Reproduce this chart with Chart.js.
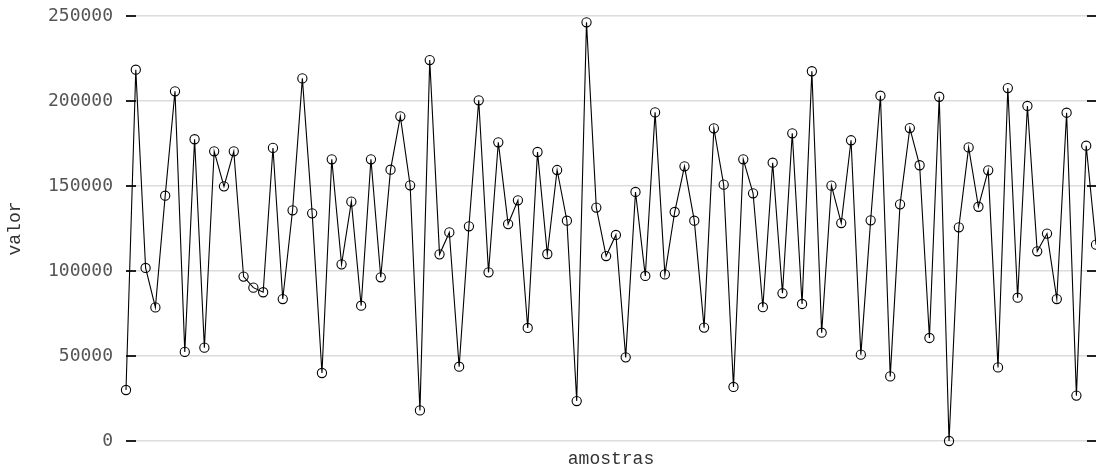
<!DOCTYPE html>
<html>
<head>
<meta charset="utf-8">
<script src="https://cdn.jsdelivr.net/npm/chart.js@4"></script>
<style>
  html, body { margin: 0; padding: 0; background: #fff; }
  #wrap { width: 1096px; height: 470px; }
</style>
</head>
<body>
<div id="wrap"><canvas id="chart" width="1096" height="470"></canvas></div>
<script>
// valores (100 amostras)
const valores = [
    30000, 218400, 101800, 78600, 144300, 205700, 52400, 177500, 54900, 170400,
    149800, 170400, 96700, 90200, 87500, 172400, 83500, 135700, 213300, 133900,
    40000, 165700, 103900, 140800, 79600, 165700, 96300, 159600, 191000, 150400,
    18000, 224100, 109800, 122700, 43700, 126300, 200400, 99200, 175700, 127600,
    141600, 66500, 170000, 110000, 159400, 129600, 23500, 246300, 137300, 108800,
    121200, 49200, 146500, 97100, 193300, 98000, 134700, 161600, 129600, 66700,
    183900, 150800, 31800, 165700, 145700, 78700, 163700, 86900, 181000, 80600,
    217500, 63700, 150200, 128200, 176900, 50800, 129800, 203100, 38000, 139200,
    184100, 162200, 60600, 202500, 0, 125700, 172700, 137800, 159200, 43300,
    207600, 84300, 197100, 111600, 122000, 83500, 193100, 26700, 173700, 115500
];
const amostras = valores.map((v, i) => i + 1);
const yTicks = [0, 50000, 100000, 150000, 200000, 250000];

// marcas de escala para dentro, dos dois lados
const tickMarks = {
    id: 'tickMarks',
    beforeDatasetsDraw(chart) {
        const { ctx, chartArea, scales } = chart;
        ctx.save();
        ctx.strokeStyle = '#222';
        ctx.lineWidth = 2;
        yTicks.forEach(t => {
            const y = scales.y.getPixelForValue(t);
            ctx.beginPath();
            ctx.moveTo(chartArea.left, y);
            ctx.lineTo(chartArea.left + 10, y);
            ctx.moveTo(chartArea.right - 9, y);
            ctx.lineTo(chartArea.right, y);
            ctx.stroke();
        });
        ctx.restore();
    }
};

new Chart(document.getElementById('chart').getContext('2d'), {
    type: 'line',
    data: {
        labels: amostras,
        datasets: [{
            data: valores,
            borderColor: '#000',
            borderWidth: 1.1,
            pointRadius: 4.6,
            pointBorderWidth: 1.1,
            pointBorderColor: '#000',
            pointBackgroundColor: 'rgba(0,0,0,0)',
            tension: 0,
            clip: false
        }]
    },
    options: {
        responsive: false,
        animation: false,
        layout: { autoPadding: false, padding: 0 },
        plugins: { legend: { display: false }, tooltip: { enabled: false } },
        scales: {
            x: {
                type: 'category',
                offset: false,
                grid: { display: false },
                border: { display: false },
                ticks: { display: false },
                title: {
                    display: true, text: 'amostras', color: '#333',
                    font: { family: 'Liberation Mono', size: 18 },
                    padding: { top: 0, bottom: 0 }
                },
                afterFit: s => { s.height = 29; }
            },
            y: {
                min: 0, max: 250000,
                afterBuildTicks: s => { s.ticks = yTicks.map(v => ({ value: v })); },
                grid: { color: '#dcdcdc', lineWidth: 1.5, drawTicks: false },
                border: { display: false },
                ticks: {
                    color: '#555', padding: 13,
                    font: { family: 'DejaVu Sans Mono', size: 18 },
                    callback: v => String(v)
                },
                title: {
                    display: true, text: 'valor', color: '#333',
                    font: { family: 'Liberation Mono', size: 18 }
                },
                afterFit: s => { s.width = 126; s.paddingTop = 16; s.paddingBottom = 0; }
            }
        }
    },
    plugins: [tickMarks]
});
</script>
</body>
</html>
